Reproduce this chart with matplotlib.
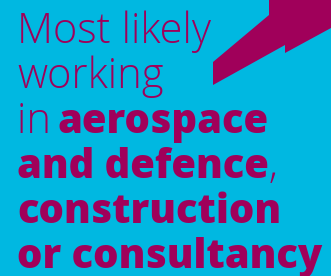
import matplotlib
matplotlib.use("Agg")
import matplotlib.pyplot as plt
from matplotlib.patches import Polygon

# couleurs
bg = "#00b8e1"
ink = "#a0005a"

# forme en haut à droite (coordonnées en pixels de l'image)
shape_x = [269, 331, 331, 285, 285, 213, 213, 269]
shape_y = [0, 0, 28, 53, 45, 85, 62, 15]

# lignes de texte : (morceau, gras ?)
lines = [
    [("Most likely", False)],
    [("working", False)],
    [("in ", False), ("aerospace", True)],
    [("and defence", True), (",", False)],
    [("construction", True)],
    [("or consultancy", True)],
]
baselines = [43, 88, 133, 178, 223, 268]

fig = plt.figure(figsize=(3.31, 2.76), dpi=100)
fig.patch.set_facecolor(bg)
ax = fig.add_axes([0, 0, 1, 1])
ax.set_xlim(0, 331)
ax.set_ylim(276, 0)
ax.axis("off")

ax.add_patch(Polygon(list(zip(shape_x, shape_y)), closed=True, color=ink, lw=0))

fig.canvas.draw()
r = fig.canvas.get_renderer()
for parts, yb in zip(lines, baselines):
    x = 17
    for txt, bold in parts:
        t = ax.text(x, yb, txt, fontsize=28.8 if bold else 30, family="Open Sans",
                    weight="heavy" if bold else "light", color=ink,
                    va="baseline", ha="left")
        bb = t.get_window_extent(renderer=r)
        x += bb.width  # 1 px = 1 unité
        if txt.endswith(" "):
            x -= 4

fig.savefig("out.png", dpi=100, facecolor=bg)
